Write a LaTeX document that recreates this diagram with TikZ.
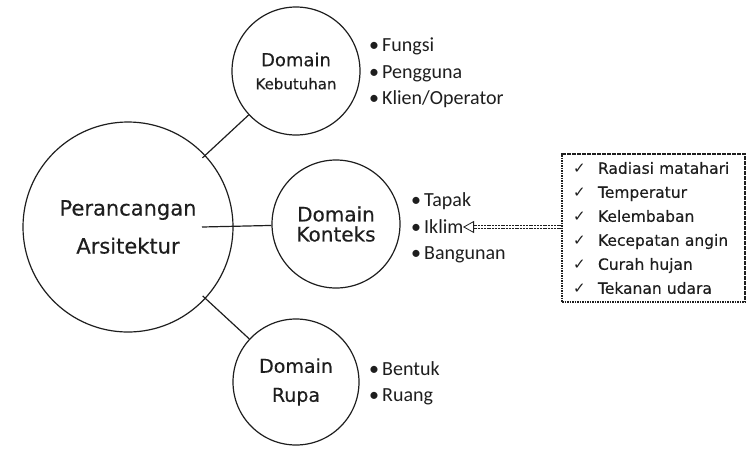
\documentclass[tikz,border=0pt]{standalone}
\usepackage{fontspec}
\setmainfont{Carlito}
\newfontfamily\comic[FakeBold=0.4]{DejaVu Sans}
\newfontfamily\symf{DejaVu Sans}
\usetikzlibrary{arrows.meta}
\definecolor{ink}{HTML}{1E1E1E}
\newcommand{\ckm}{\makebox[25pt][l]{\symf\fontsize{15}{15}\selectfont ✓}}
\newcommand{\bul}{\makebox[13pt][l]{•}}
\begin{document}
\begin{tikzpicture}[x=1pt,y=-1pt,
  dom/.style={circle, draw=ink, line width=1.2pt, inner sep=0pt, align=center, text=ink},
  blist/.style={anchor=base west, align=left, inner sep=0pt, text=ink, font=\fontsize{20}{26.5}\selectfont},
  conn/.style={draw=ink, line width=1.2pt}]
\useasboundingbox (0,0) rectangle (750,475);

% main circle
\node[dom, minimum size=210pt, font=\comic\fontsize{21}{38}\selectfont] (big) at (128,227)
  {Perancangan\\Arsitektur};

% domain circles
\node[dom, minimum size=128pt, font=\comic\fontsize{18}{23}\selectfont] (keb) at (296,71)
  {Domain\\{\fontsize{15}{23}\selectfont Kebutuhan}};
\node[dom, minimum size=128pt, font=\comic\fontsize{20}{20}\selectfont] (kon) at (336,224)
  {Domain\\Konteks};
\node[dom, minimum size=126pt, font=\comic\fontsize{19}{29}\selectfont] (rupa) at (296,382)
  {Domain\\Rupa};

% connectors
\coordinate (hstart) at (202,227);
\draw[conn, shorten <=-4pt] (big) -- (keb);
\draw[conn] (hstart) -- (kon);
\draw[conn, shorten <=-4pt] (big) -- (rupa);

% bullet lists (anchor = baseline of last line)
\node[blist] (kebl) at (369,104.5)
  {\bul Fungsi\\\bul Pengguna\\\bul Klien/Operator};
\node[blist] (konl) at (411,259.5)
  {\bul Tapak\\\bul Iklim\\\bul Bangunan};
\node[blist] (rupal) at (369,401.5)
  {\bul Bentuk\\\bul Ruang};

% climate box
\node[draw=ink, line width=1.1pt, dash pattern=on 1.6pt off 0.9pt,
      minimum width=183pt, minimum height=148pt, inner xsep=11pt, inner ysep=0pt,
      text width=161pt, align=left, text=ink,
      font=\comic\fontsize{15.5}{24}\selectfont] (box) at (653.5,228)
  {\ckm Radiasi matahari\\
   \ckm Temperatur\\
   \ckm Kelembaban\\
   \ckm Kecepatan angin\\
   \ckm Curah hujan\\
   \ckm Tekanan udara};

% arrow to Iklim
\coordinate (tip) at (463,227);
\coordinate (tail) at (box.west |- tip);
\draw[draw=ink, line width=0.8pt, double=white, double distance=1.8pt,
      dash pattern=on 2pt off 0.8pt,
      -{Triangle[open, length=11pt, width=12pt, line width=0.8pt]}] (tail) -- (tip);
\end{tikzpicture}
\end{document}
